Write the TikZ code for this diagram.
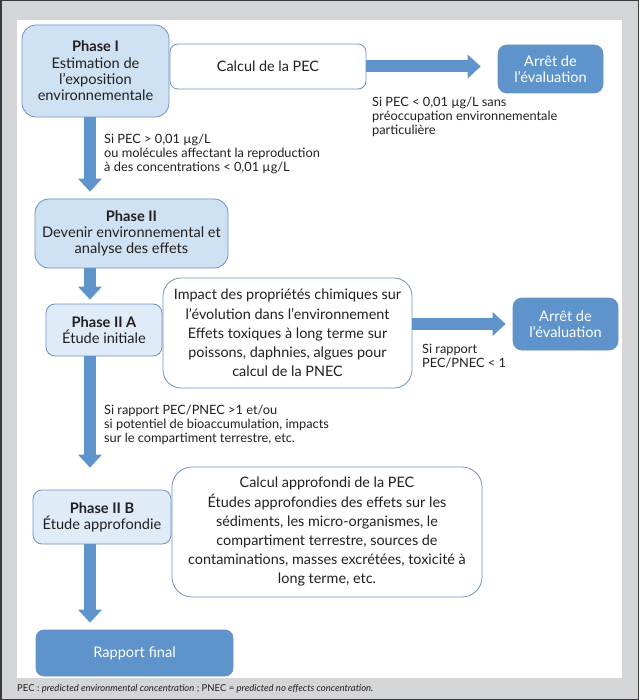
\documentclass[tikz,border=0pt]{standalone}
\usepackage{fontspec}
\setmainfont{Lato}
\usetikzlibrary{positioning,arrows.meta}

\definecolor{framegrey}{HTML}{D4D5D7}
\definecolor{frameline}{HTML}{3A3A3C}
\definecolor{edgeblue}{HTML}{6F92C2}
\definecolor{paleblue}{HTML}{CFE2F3}
\definecolor{lightblue}{HTML}{DFEBF7}
\definecolor{midblue}{HTML}{5E94CB}
\definecolor{inkgrey}{HTML}{231F20}

\begin{document}
\begin{tikzpicture}[x=1pt, y=-1pt, >=Latex,
  every node/.style={text=inkgrey},
  box/.style={draw=edgeblue, line width=0.8pt, rectangle, align=center, inner sep=2pt},
  phasebox/.style={box, fill=paleblue, font=\fontsize{14.6}{16.3}\selectfont},
  subbox/.style={box, fill=lightblue, rounded corners=9pt, font=\fontsize{14.6}{16.3}\selectfont},
  infobox/.style={box, fill=white, font=\fontsize{14.4}{19.2}\selectfont},
  stopbox/.style={box, fill=midblue, text=white, font=\fontsize{14.6}{16.3}\selectfont},
  note/.style={anchor=north west, align=left, inner sep=0pt, font=\fontsize{12.8}{14.3}\selectfont},
  fatarrow/.style={draw=midblue, line width=12pt, -{Triangle[length=13pt, width=24pt, line width=0pt]}}]

  % cadre et fond
  \fill[framegrey] (0,0) rectangle (639,700);
  \fill[white] (17,20) rectangle (622,678);
  \draw[frameline, line width=1.5pt] (0.75,0.75) rectangle (638.25,699.25);
  \useasboundingbox (0,0) rectangle (639,700);

  % colonne des flèches verticales
  \coordinate (col) at (90,0);

  \node[phasebox, rounded corners=14pt, minimum width=147pt, minimum height=92pt] (p1) at (95.5,71) {\textbf{Phase I}\\Estimation de\\l’exposition\\environnementale};
  \node[infobox, rounded corners=8pt, minimum width=196pt, minimum height=45pt] (pec) at (268,66.5) {Calcul de la PEC};
  \node[stopbox, rounded corners=9pt, minimum width=105pt, minimum height=48pt] (stop1) at (550.5,69) {Arrêt de\\l’évaluation};
  \node[note] (n1) at (372,96.5) {Si PEC < 0,01 µg/L sans\\préoccupation environnementale\\particulière};

  \node[note] (n2) at (104,133.5) {Si PEC > 0,01 µg/L\\ou molécules affectant la reproduction\\à des concentrations < 0,01 µg/L};

  \node[phasebox, rounded corners=14pt, minimum width=193pt, minimum height=69pt] (p2) at (131.5,233.5) {\textbf{Phase II}\\Devenir environnemental et\\analyse des effets};

  \node[subbox, minimum width=116pt, minimum height=52pt] (p2a) at (104,330) {\textbf{Phase II A}\\Étude initiale};
  \node[infobox, rounded corners=18pt, minimum width=249pt, minimum height=110pt] (imp) at (287.5,333) {Impact des propriétés chimiques sur\\l’évolution dans l’environnement\\Effets toxiques à long terme sur\\poissons, daphnies, algues pour\\calcul de la PNEC};
  \node[stopbox, rounded corners=9pt, minimum width=105pt, minimum height=52pt] (stop2) at (565.5,324) {Arrêt de\\l’évaluation};
  \node[note] (n3) at (422,343.5) {Si rapport\\PEC/PNEC < 1};

  \node[note] (n4) at (104,404.5) {Si rapport PEC/PNEC >1 et/ou\\si potentiel de bioaccumulation, impacts\\sur le compartiment terrestre, etc.};

  \node[subbox, minimum width=138pt, minimum height=54pt] (p2b) at (102,517) {\textbf{Phase II B}\\Étude approfondie};
  \node[infobox, rounded corners=20pt, minimum width=310pt, minimum height=130pt] (big) at (327,532) {Calcul approfondi de la PEC\\Études approfondies des effets sur les\\sédiments, les micro-organismes, le\\compartiment terrestre, sources de\\contaminations, masses excrétées, toxicité à\\long terme, etc.};

  \node[stopbox, rounded corners=8pt, minimum width=197pt, minimum height=46pt] (fin) at (134.5,653) {Rapport final};

  \node[anchor=west, inner sep=0pt, font=\fontsize{9.5}{12}\selectfont] (foot) at (17,689) {PEC : \textit{predicted environmental concentration} ; PNEC = \textit{predicted no effects concentration.}};

  \draw[fatarrow, shorten >=17pt] (pec.east) -- (pec.east -| stop1.west);
  \draw[fatarrow, shorten >=7pt] (imp.east |- stop2.west) -- (stop2.west);
  \draw[fatarrow, shorten >=7pt] (p1.south -| col) -- (p2.north -| col);
  \draw[fatarrow, shorten >=4pt] (p2.south -| col) -- (p2a.north -| col);
  \draw[fatarrow, shorten >=22pt] (p2a.south -| col) -- (p2b.north -| col);
  \draw[fatarrow, shorten >=7pt] (p2b.south -| col) -- (fin.north -| col);
\end{tikzpicture}
\end{document}
